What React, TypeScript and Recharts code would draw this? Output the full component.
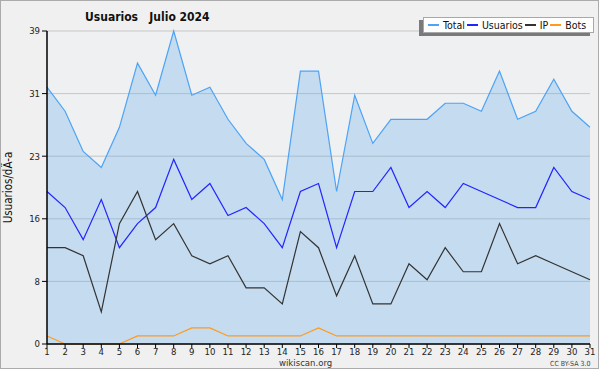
import { ComposedChart, Area, Line, XAxis, YAxis, CartesianGrid } from 'recharts'

const days = [1, 2, 3, 4, 5, 6, 7, 8, 9, 10, 11, 12, 13, 14, 15, 16, 17, 18, 19, 20, 21, 22, 23, 24, 25, 26, 27, 28, 29, 30, 31]
const total = [32, 29, 24, 22, 27, 35, 31, 39, 31, 32, 28, 25, 23, 18, 34, 34, 19, 31, 25, 28, 28, 28, 30, 30, 29, 34, 28, 29, 33, 29, 27]
const usuarios = [19, 17, 13, 18, 12, 15, 17, 23, 18, 20, 16, 17, 15, 12, 19, 20, 12, 19, 19, 22, 17, 19, 17, 20, 19, 18, 17, 17, 22, 19, 18]
const ip = [12, 12, 11, 4, 15, 19, 13, 15, 11, 10, 11, 7, 7, 5, 14, 12, 6, 11, 5, 5, 10, 8, 12, 9, 9, 15, 10, 11, 10, 9, 8]
const bots = [1, 0, 0, 0, 0, 1, 1, 1, 2, 2, 1, 1, 1, 1, 1, 2, 1, 1, 1, 1, 1, 1, 1, 1, 1, 1, 1, 1, 1, 1, 1]
const yTicks = [0, 7.8, 15.6, 23.4, 31.2, 39]

const legendItems = [
  { name: 'Total', color: '#4da3f5' },
  { name: 'Usuarios', color: '#2424ff' },
  { name: 'IP', color: '#333333' },
  { name: 'Bots', color: '#ff9a1a' },
]

const font = '"DejaVu Sans Condensed", "DejaVu Sans", sans-serif'

export default function App() {
  const data = days.map((d, i) => ({
    day: d,
    total: total[i],
    usuarios: usuarios[i],
    ip: ip[i],
    bots: bots[i],
  }))

  return (
    <div
      style={{
        position: 'absolute',
        left: 0,
        top: 0,
        width: 599,
        height: 369,
        boxSizing: 'border-box',
        border: '1px solid #ababab',
        background: '#f0f0f0',
        fontFamily: font,
        overflow: 'hidden',
      }}
    >
      <div style={{ position: 'absolute', left: -1, top: -1 }}>
        <ComposedChart width={600} height={370} data={data} margin={{ top: 31, right: 10, bottom: 0, left: 0 }}>
          <CartesianGrid vertical={false} stroke="#c6c6c6" fill="#eef0f2" />
          <XAxis
            dataKey="day"
            type="number"
            domain={[1, 31]}
            ticks={days}
            interval={0}
            height={26}
            tickSize={4}
            axisLine={{ stroke: '#000', strokeWidth: 1.5 }}
            tickLine={{ stroke: '#000' }}
            tick={{ fontSize: 9.5, fill: '#222', fontFamily: font, dy: -2 }}
          />
          <YAxis
            domain={[0, 39]}
            ticks={yTicks}
            interval={0}
            width={47}
            tickSize={5}
            tickFormatter={(v: number) => String(Math.round(v))}
            axisLine={{ stroke: '#000', strokeWidth: 1.5 }}
            tickLine={{ stroke: '#000' }}
            tick={{ fontSize: 9.5, fill: '#222', fontFamily: font }}
            label={{
              value: 'Usuarios/dÃ-a',
              angle: -90,
              position: 'insideLeft',
              offset: 8,
              style: { fontSize: 11.5, fill: '#111', fontFamily: font, textAnchor: 'middle' },
            }}
          />
          <Area
            type="linear"
            dataKey="total"
            stroke="#4da3f5"
            strokeWidth={1.2}
            fill="#65adeb"
            fillOpacity={0.3}
            isAnimationActive={false}
          />
          <Line type="linear" dataKey="usuarios" stroke="#2424ff" strokeWidth={1.2} dot={false} isAnimationActive={false} />
          <Line type="linear" dataKey="ip" stroke="#333333" strokeWidth={1.2} dot={false} isAnimationActive={false} />
          <Line type="linear" dataKey="bots" stroke="#ff9a1a" strokeWidth={1.2} dot={false} isAnimationActive={false} />
        </ComposedChart>
      </div>

      <div
        style={{
          position: 'absolute',
          left: 84,
          top: 9,
          fontSize: 12,
          fontWeight: 'bold',
          color: '#111',
          whiteSpace: 'pre',
        }}
      >
        {'Usuarios   Julio 2024'}
      </div>

      <div style={{ position: 'absolute', left: 418, top: 19, width: 171, height: 16, background: '#7a7a7a' }} />
      <div
        style={{
          position: 'absolute',
          left: 422,
          top: 16,
          width: 171,
          height: 16,
          boxSizing: 'border-box',
          border: '1px solid #a8a8a8',
          background: '#fff',
          display: 'flex',
          alignItems: 'center',
          paddingLeft: 4,
          fontSize: 10.5,
          color: '#111',
          whiteSpace: 'nowrap',
        }}
      >
        {legendItems.map((it) => (
          <span key={it.name} style={{ display: 'flex', alignItems: 'center', marginRight: 2 }}>
            <span style={{ display: 'inline-block', width: 11, height: 1.5, background: it.color, marginRight: 4 }} />
            {it.name}
          </span>
        ))}
      </div>

      <div style={{ position: 'absolute', left: 278, top: 356, fontSize: 9.5, lineHeight: '11px', color: '#333' }}>wikiscan.org</div>
      <div style={{ position: 'absolute', left: 549, top: 359, fontSize: 7, lineHeight: '8px', color: '#444' }}>CC BY-SA 3.0</div>
    </div>
  )
}
